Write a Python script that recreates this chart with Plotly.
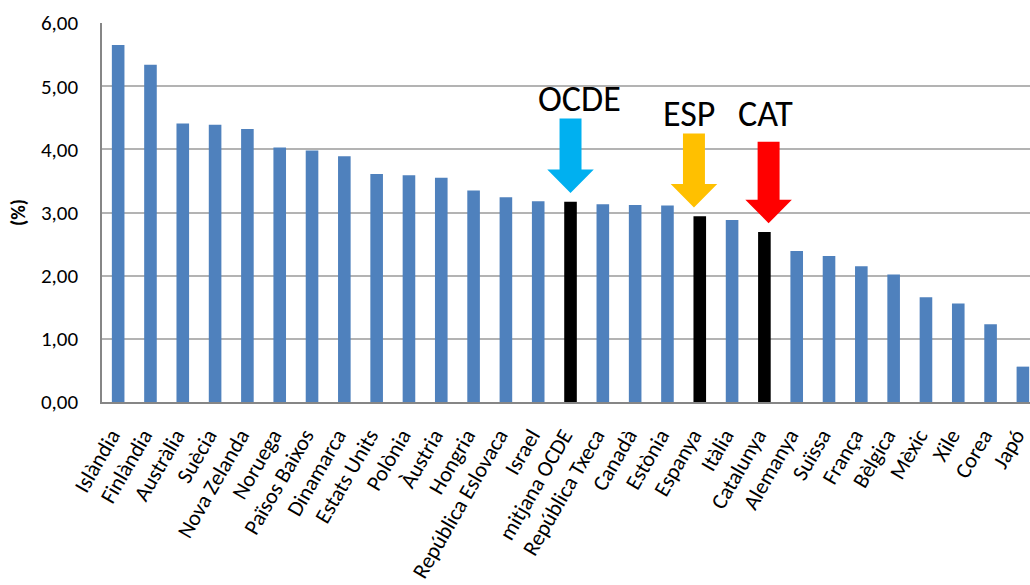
import plotly.graph_objects as go

categories = ["Islàndia", "Finlàndia", "Austràlia", "Suècia", "Nova Zelanda", "Noruega",
              "Països Baixos", "Dinamarca", "Estats Units", "Polònia", "Àustria", "Hongria",
              "República Eslovaca", "Israel", "mitjana OCDE", "República Txeca", "Canadà",
              "Estònia", "Espanya", "Itàlia", "Catalunya", "Alemanya", "Suïssa", "França",
              "Bèlgica", "Mèxic", "Xile", "Corea", "Japó"]
values = [5.65, 5.34, 4.41, 4.39, 4.32, 4.03, 3.98, 3.89, 3.61, 3.59, 3.55, 3.35,
          3.24, 3.18, 3.17, 3.13, 3.12, 3.11, 2.94, 2.88, 2.69, 2.39, 2.31, 2.15,
          2.02, 1.66, 1.56, 1.23, 0.56]
highlighted = ["mitjana OCDE", "Espanya", "Catalunya"]
y_ticks = [0, 1, 2, 3, 4, 5, 6]

# arrow markers: (category, label, colour, x shift, shaft length, label x shift, label y)
markers = [("mitjana OCDE", "OCDE", "#00B0F0", 0.0, 0.81, 0.28, 4.80),
           ("Espanya", "ESP", "#FFC000", -0.18, 0.80, -0.34, 4.56),
           ("Catalunya", "CAT", "#FF0000", 0.13, 0.92, 0.04, 4.56)]

FONT = "Carlito, Lato, sans-serif"
xs = list(range(len(categories)))
colors = ["#000000" if c in highlighted else "#4F81BD" for c in categories]

fig = go.Figure(go.Bar(x=xs, y=values, marker=dict(color=colors, line=dict(width=0)),
                       width=0.39, hoverinfo="skip"))

shapes = []
annotations = []
for cat, label, col, dx, shaft, lx, ly in markers:
    i = categories.index(cat)
    v = values[i]
    cx = i + dx
    tip = v + 0.14
    head = tip + 0.37
    top = head + shaft
    sw, hw = 0.34, 0.72
    path = (f"M {cx - sw},{top} L {cx + sw},{top} L {cx + sw},{head} L {cx + hw},{head} "
            f"L {cx},{tip} L {cx - hw},{head} L {cx - sw},{head} Z")
    shapes.append(dict(type="path", path=path, xref="x", yref="y",
                       fillcolor=col, line=dict(width=0), layer="above"))
    annotations.append(dict(x=i + lx, y=ly, xref="x", yref="y", text=label,
                            showarrow=False, font=dict(family=FONT, size=36, color="#000000"),
                            xanchor="center", yanchor="middle"))

fig.update_layout(
    width=1030, height=585,
    margin=dict(l=102, r=0, t=23, b=183),
    paper_bgcolor="white", plot_bgcolor="white",
    separators=",.",
    showlegend=False,
    shapes=shapes,
    annotations=annotations,
    font=dict(family=FONT, color="#000000"),
    xaxis=dict(tickmode="array", tickvals=xs, ticktext=categories, tickangle=-60,
               range=[-0.5, 28.22], showgrid=False, zeroline=False, automargin=False,
               showline=True, linecolor="#868686", linewidth=2, ticklabeloverflow="allow",
               ticklabelstandoff=10, ticklabelshift=-7,
               tickfont=dict(family=FONT, size=22, color="#000000"), ticks=""),
    yaxis=dict(range=[0, 6], tickmode="array", tickvals=y_ticks, tickformat=".2f",
               showgrid=True, gridcolor="#B3B3B3", gridwidth=1.5, zeroline=False,
               showline=True, linecolor="#868686", linewidth=1.5, automargin=False,
               tickfont=dict(family=FONT, size=21, color="#000000"), ticks="",
               ticklabelstandoff=18,
               title=dict(text="<b>(%)</b>", font=dict(family=FONT, size=20, color="#000000"),
                          standoff=10)),
)

fig.write_html("out.html", config={"displayModeBar": False},
               post_script="document.body.style.margin='0';document.body.style.overflow='hidden';")
